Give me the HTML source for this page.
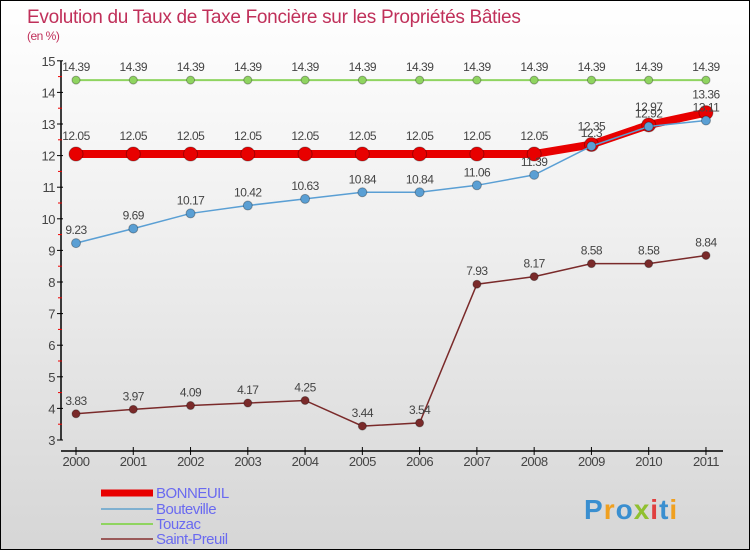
<!DOCTYPE html>
<html><head><meta charset="utf-8"><style>
body{margin:0}
#c{position:relative;width:748px;height:548px;border:1px solid #000;background:linear-gradient(#fff 0%,#f0f0f0 40%,#d6d6d6 100%);overflow:hidden;font-family:"Liberation Sans",sans-serif}
</style></head><body>
<div id="c">
<svg id="s" width="748" height="548"></svg>
</div>
<script>
const years=[2000,2001,2002,2003,2004,2005,2006,2007,2008,2009,2010,2011];
const bonneuil=[12.05,12.05,12.05,12.05,12.05,12.05,12.05,12.05,12.05,12.35,12.97,13.36];
const bouteville=[9.23,9.69,10.17,10.42,10.63,10.84,10.84,11.06,11.39,12.3,12.92,13.11];
const touzac=[14.39,14.39,14.39,14.39,14.39,14.39,14.39,14.39,14.39,14.39,14.39,14.39];
const saintPreuil=[3.83,3.97,4.09,4.17,4.25,3.44,3.54,7.93,8.17,8.58,8.58,8.84];
const yTicks=[3,4,5,6,7,8,9,10,11,12,13,14,15];
const NS="http://www.w3.org/2000/svg";
const s=document.getElementById('s');
function X(i){return 75+i*57.27;}
function Y(v){return 439-(v-3)*31.6;}
function el(t,a,p){const e=document.createElementNS(NS,t);for(const k in a)e.setAttribute(k,a[k]);(p||s).appendChild(e);return e;}
function tx(x,y,str,o){const e=el('text',Object.assign({x:x,y:y,'font-size':12,fill:'#444','font-family':'Liberation Sans, sans-serif','letter-spacing':'-0.5'},o||{}));e.textContent=str;return e;}
let t=tx(26,22,'Evolution du Taux de Taxe Foncière sur les Propriétés Bâties',{'font-size':19,fill:'#c0305a','letter-spacing':'-0.3'});

t=tx(26,39,'(en %)',{'font-size':12,fill:'#c0305a'});

let a=el('line',{x1:60,y1:Y(15),x2:60,y2:Y(3),stroke:'#000','stroke-width':1.5});

yTicks.forEach(v=>{el('line',{x1:56,y1:Y(v),x2:62,y2:Y(v),stroke:'#000'});
 const l=tx(54,Y(v)+5,String(v),{'text-anchor':'end','font-size':13});
 
 if(v<15)el('line',{x1:57,y1:Y(v+0.5),x2:61,y2:Y(v+0.5),stroke:'#e00'});});
a=el('line',{x1:60,y1:450,x2:722,y2:450,stroke:'#000','stroke-width':1.5});

years.forEach((y,i)=>{el('line',{x1:X(i),y1:446,x2:X(i),y2:454,stroke:'#000'});
 const l=tx(X(i),465,String(y),{'text-anchor':'middle','font-size':13});
 });
function series(d,name,col,w,r,labelDy){
 const g=el('g',{});
 el('polyline',{points:d.map((v,i)=>X(i)+','+Y(v)).join(' '),fill:'none',stroke:col,'stroke-width':w},g);
 d.forEach((v,i)=>{const c=el('circle',{cx:X(i),cy:Y(v),r:r,fill:col,stroke:'rgba(0,0,0,0.3)'},g);
  
  const l=tx(X(i),Y(v)+labelDy,String(v),{'text-anchor':'middle'});g.appendChild(l);
  });
}
series(touzac,'touzac','#8fd460',2,4,-9);
series(saintPreuil,'saint-preuil','#7a2a2a',1.5,4,-9);
series(bonneuil,'bonneuil','#e80000',8,7,-14);
series(bouteville,'bouteville','#5a9fd4',1.5,4.5,-9);
const leg=[['BONNEUIL','#e80000',7],['Bouteville','#7fb0d0',2],['Touzac','#8fd460',2],['Saint-Preuil','#9a5a5a',2]];
const ly=[491,507,522,537];
leg.forEach((L,i)=>{const g=el('g',{});
 el('line',{x1:100,y1:ly[i]+1,x2:152,y2:ly[i]+1,stroke:L[1],'stroke-width':L[2]},g);
 const l=tx(155,ly[i]+6,L[0],{'font-size':15,fill:'#6a6af0'});g.appendChild(l);});
const lg=tx(583,518,'',{'font-size':28,'font-weight':'bold','letter-spacing':'1'});

[['P','#3a8fd0'],['r','#f0a020'],['o','#3a8fd0'],['x','#90c030'],['i','#e04040'],['t','#3a8fd0'],['i','#f0a020']].forEach(p=>{const ts=el('tspan',{fill:p[1]},lg);ts.textContent=p[0];});
</script>
</body></html>
